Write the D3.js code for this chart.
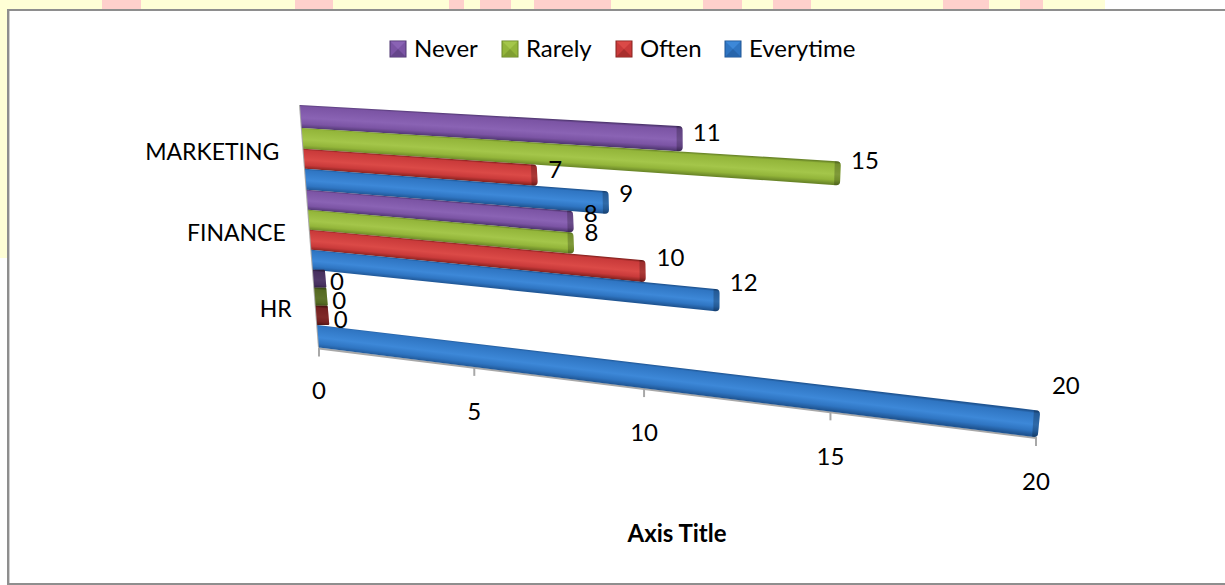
<!DOCTYPE html>
<html>
<head>
<meta charset="utf-8">
<script src="https://cdnjs.cloudflare.com/ajax/libs/d3/7.8.5/d3.min.js"></script>
<style>
  html, body { margin: 0; padding: 0; background: #fff; overflow: hidden; }
  svg { display: block; }
  text { font-family: Lato, "Open Sans", sans-serif; fill: #000; }
</style>
</head>
<body>
<svg></svg>
<script>
const categories = ["HR", "FINANCE", "MARKETING"];
const seriesNames = ["Everytime", "Often", "Rarely", "Never"];
const everytime = [20, 12, 9];
const often = [0, 10, 7];
const rarely = [0, 8, 15];
const never = [0, 8, 11];
const valueTicks = [0, 5, 10, 15, 20];
const legendOrder = ["Never", "Rarely", "Often", "Everytime"];

const seriesValues = { Everytime: everytime, Often: often, Rarely: rarely, Never: never };

// dark edge, body, highlight for each series
const palette = {
    Never: ["#4f3670", "#7b54a4", "#8a63b4"],
    Rarely: ["#6a8628", "#93b53a", "#a4c64a"],
    Often: ["#86221f", "#c93a3a", "#db4a47"],
    Everytime: ["#1f5593", "#2f75c2", "#3d88d8"]
};

const width = 1225;
const height = 585;

const canvas = d3.select("svg").attr("width", width).attr("height", height);
const defs = canvas.append("defs");

// page strip behind the chart frame
const pinkPatches = [[102, 39], [295, 38], [449, 15], [480, 31], [534, 77], [703, 39], [773, 38], [943, 46], [1020, 23]];
canvas.append("rect").attr("x", 0).attr("y", 0).attr("width", 1105).attr("height", 10).attr("fill", "#ffffd6");
canvas.append("rect").attr("x", 0).attr("y", 0).attr("width", 7).attr("height", 258).attr("fill", "#ffffd6");
canvas.selectAll("rect.patch")
    .data(pinkPatches)
    .enter()
    .append("rect")
    .attr("class", "patch")
    .attr("x", d => d[0])
    .attr("y", 0)
    .attr("width", d => d[1])
    .attr("height", 10)
    .attr("fill", "#ffd0cc");

// chart frame, open on the right
canvas.append("path")
    .attr("d", "M1225,10H8V584H1225")
    .attr("fill", "none")
    .attr("stroke", "#8e8e8e")
    .attr("stroke-width", 2);
canvas.append("line")
    .attr("x1", 9.5).attr("x2", 9.5).attr("y1", 11).attr("y2", 583)
    .attr("stroke", "#d0d0d0");

const xScale = d3.scaleLinear().domain([0, 20]).range([0, 1]);
const catScale = d3.scaleBand().domain(categories).range([0, 1]);
const rowScale = d3.scaleBand().domain(seriesNames).range([0, catScale.bandwidth()]);

// the rows are not evenly deep on the tilted plane
const rowDepths = [0, 0.0973, 0.1787, 0.2552, 0.3311, 0.4148, 0.4977, 0.5799, 0.6613, 0.7461, 0.8262, 0.9095, 1];
const depthWarp = d3.scaleLinear().domain(d3.range(13).map(i => i / 12)).range(rowDepths);

// plane of the tilted plot: value and depth (0..1) to pixels
const floorA = [319, 347.5], floorB = [1036, 437], wallA = [300, 105], wallB = [1056, 147];
const homography = (() => {
    const sx = floorA[0] - floorB[0] + wallB[0] - wallA[0];
    const sy = floorA[1] - floorB[1] + wallB[1] - wallA[1];
    const dx1 = floorB[0] - wallB[0], dy1 = floorB[1] - wallB[1];
    const dx2 = wallA[0] - wallB[0], dy2 = wallA[1] - wallB[1];
    const det = dx1 * dy2 - dx2 * dy1;
    return { g: (sx * dy2 - dx2 * sy) / det, h: (dx1 * sy - sx * dy1) / det };
})();
function project(v, rawDepth) {
    const u = xScale(v);
    const depth = depthWarp(rawDepth);
    const { g, h } = homography;
    const w = 1 + g * u + h * depth;
    return [
        (floorA[0] + (floorB[0] * (1 + g) - floorA[0]) * u + (wallA[0] * (1 + h) - floorA[0]) * depth) / w,
        (floorA[1] + (floorB[1] * (1 + g) - floorA[1]) * u + (wallA[1] * (1 + h) - floorA[1]) * depth) / w
    ];
}

// back wall and floor lines with the value ticks
const axisColor = "#a8a8a8";
const axisLayer = canvas.append("g");
axisLayer.append("line")
    .attr("x1", project(0, 0)[0]).attr("y1", project(0, 0)[1])
    .attr("x2", project(0, 1)[0]).attr("y2", project(0, 1)[1])
    .attr("stroke", axisColor).attr("stroke-width", 2);
axisLayer.append("line")
    .attr("x1", project(0, 0)[0]).attr("y1", project(0, 0)[1] + 1)
    .attr("x2", project(20, 0)[0]).attr("y2", project(20, 0)[1] + 1)
    .attr("stroke", axisColor).attr("stroke-width", 2);
axisLayer.selectAll("line.tick")
    .data(valueTicks)
    .enter()
    .append("line")
    .attr("class", "tick")
    .attr("x1", d => project(d, 0)[0])
    .attr("x2", d => project(d, 0)[0])
    .attr("y1", d => project(d, 0)[1])
    .attr("y2", d => project(d, 0)[1] + 9)
    .attr("stroke", axisColor).attr("stroke-width", 2);
axisLayer.selectAll("text")
    .data(valueTicks)
    .enter()
    .append("text")
    .attr("x", d => project(d, 0)[0])
    .attr("y", d => project(d, 0)[1] + (d === 0 ? 43 : 45))
    .attr("dy", "0.35em")
    .attr("text-anchor", "middle")
    .attr("font-size", 24)
    .text(d => d);

// flat list of bars, back rows first so nearer rows paint over them
const bars = [];
categories.forEach((c, ci) => {
    seriesNames.forEach(s => {
        const d0 = catScale(c) + rowScale(s);
        bars.push({ category: c, series: s, value: seriesValues[s][ci], d0: d0, d1: d0 + rowScale.bandwidth() });
    });
});
bars.sort((a, b) => b.d0 - a.d0);

// bar outline with a rounded right end
function barPath(tl, tr, br, bl, tip, r) {
    return `M${tl[0]},${tl[1]}` +
        `L${tr[0] + tip - r},${tr[1]}` +
        `Q${tr[0] + tip},${tr[1]} ${tr[0] + tip},${tr[1] + r}` +
        `L${br[0] + tip},${br[1] - r}` +
        `Q${br[0] + tip},${br[1]} ${br[0] + tip - r},${br[1]}` +
        `L${bl[0]},${bl[1]}Z`;
}

const barLayer = canvas.append("g");
bars.forEach((bar, i) => {
    const p = palette[bar.series];
    const dm = (bar.d0 + bar.d1) / 2;
    const c0 = project(0, dm), c1 = project(20, dm);
    const len = Math.hypot(c1[0] - c0[0], c1[1] - c0[1]);
    const n = [-(c1[1] - c0[1]) / len, (c1[0] - c0[0]) / len];
    const midTop = project(bar.value / 2, bar.d1), midBot = project(bar.value / 2, bar.d0);
    const span = (midBot[0] - midTop[0]) * n[0] + (midBot[1] - midTop[1]) * n[1];

    const grad = defs.append("linearGradient")
        .attr("id", "bar" + i)
        .attr("gradientUnits", "userSpaceOnUse")
        .attr("x1", midTop[0]).attr("y1", midTop[1])
        .attr("x2", midTop[0] + n[0] * span).attr("y2", midTop[1] + n[1] * span);
    [[0, p[0]], [0.09, p[1]], [0.55, p[2]], [0.8, p[1]], [1, p[0]]].forEach(s => {
        grad.append("stop").attr("offset", s[0]).attr("stop-color", s[1]);
    });

    const tl = project(0, bar.d1), bl = project(0, bar.d0);
    const tr = project(bar.value, bar.d1), br = project(bar.value, bar.d0);
    const g = barLayer.append("g").attr("class", "bar");
    const isZero = bar.value === 0;
    // the end face reads wider towards the back of the plot
    const tip = isZero ? 12 : 2 + 2 * dm;
    g.append("path")
        .attr("d", barPath(tl, tr, br, bl, tip, isZero ? 1 : 4))
        .attr("fill", `url(#bar${i})`);
    const capStart = isZero ? 0 : tip - 6;
    g.append("path")
        .attr("d", barPath(
            [tr[0] + capStart, tr[1]], tr, br, [br[0] + capStart, br[1]],
            tip, isZero ? 1 : 4))
        .attr("fill", "#000")
        .attr("fill-opacity", isZero ? 0.42 : 0.22);
});

// category names beside the wall
canvas.selectAll("text.category")
    .data(categories)
    .enter()
    .append("text")
    .attr("class", "category")
    .attr("x", d => project(0, catScale(d) + catScale.bandwidth() / 2)[0] - 24)
    .attr("y", d => project(0, catScale(d) + catScale.bandwidth() / 2)[1] + 3)
    .attr("dy", "0.35em")
    .attr("text-anchor", "end")
    .attr("font-size", 23)
    .text(d => d);

// nudges from each bar's upper end to its value label, by category then series
const labelNudge = {
    MARKETING: { Never: [28, 7], Rarely: [28, -1], Often: [22, 5], Everytime: [21, 3] },
    FINANCE: { Never: [21, 3], Rarely: [21, 0], Often: [28, -3], Everytime: [27, -6] },
    HR: { Never: [24, 12], Rarely: [25, 13], Often: [25, 14], Everytime: [28, -25] }
};
canvas.selectAll("text.value")
    .data(bars)
    .enter()
    .append("text")
    .attr("class", "value")
    .attr("x", d => project(d.value, d.d1)[0] + labelNudge[d.category][d.series][0])
    .attr("y", d => project(d.value, d.d1)[1] + labelNudge[d.category][d.series][1])
    .attr("dy", "0.35em")
    .attr("text-anchor", "middle")
    .attr("font-size", 24)
    .text(d => d.value);

// legend
const legendX = d3.scaleOrdinal().domain(legendOrder).range([390, 502, 616, 725]);
const legend = canvas.selectAll("g.legend")
    .data(legendOrder)
    .enter()
    .append("g")
    .attr("class", "legend")
    .attr("transform", d => `translate(${legendX(d)},41)`);
const swatch = 16;
legend.append("rect")
    .attr("width", swatch).attr("height", swatch)
    .attr("fill", d => palette[d][1])
    .attr("stroke", d => palette[d][0]).attr("stroke-width", 1);
legend.append("polygon")
    .attr("points", `0.5,0.5 ${swatch - 0.5},0.5 ${swatch / 2},${swatch / 2}`)
    .attr("fill", d => palette[d][2]);
legend.append("polygon")
    .attr("points", `0.5,${swatch - 0.5} ${swatch - 0.5},${swatch - 0.5} ${swatch / 2},${swatch / 2}`)
    .attr("fill", d => d3.interpolateRgb(palette[d][0], palette[d][1])(0.5));
legend.append("text")
    .attr("x", swatch + 8)
    .attr("y", swatch / 2)
    .attr("dy", "0.35em")
    .attr("font-size", 24)
    .text(d => d);

canvas.append("text")
    .attr("x", 677)
    .attr("y", 534)
    .attr("dy", "0.35em")
    .attr("text-anchor", "middle")
    .attr("font-size", 24)
    .attr("font-weight", "bold")
    .text("Axis Title");
</script>
</body>
</html>
